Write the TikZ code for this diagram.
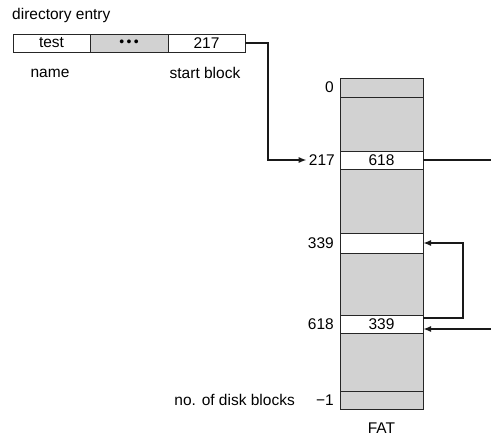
\documentclass[tikz,border=0pt]{standalone}
\usepackage{fontspec}
\setmainfont{Liberation Sans}
\usetikzlibrary{arrows.meta}
\begin{document}
\begin{tikzpicture}[x=1pt,y=-1pt,
  lbl/.style={inner sep=0pt, font=\fontsize{15.5}{17}\selectfont},
  cell/.style={draw=black!85, line width=0.9pt, inner sep=0pt, outer sep=0pt, minimum width=#1, font=\fontsize{15.5}{17}\selectfont},
  shade/.style={fill=gray!35},
  conn/.style={line width=1.7pt, black!90},
  tip/.style={-{Latex[length=8pt,width=6pt]}}
]
\useasboundingbox (0,0) rectangle (491,436);
% directory entry
\node[lbl, anchor=west] (dirlbl) at (12,15) {directory entry};
\node[cell=77pt, minimum height=18pt] (name) at (51.5,43) {test};
\node[cell=78pt, minimum height=18pt, shade] (dots) at (129,43) {\fontsize{14}{14}\selectfont •\,•\,•};
\node[cell=77pt, minimum height=18pt] (start) at (206.5,43) {217};
\node[lbl] (namelbl) at (50,73) {name};
\node[lbl] (startlbl) at (205,73) {start block};
% FAT column
\node[cell=83pt, minimum height=19pt, shade] (f0) at (381.5,87.5) {};
\node[cell=83pt, minimum height=54pt, shade] (g1) at (381.5,124) {};
\node[cell=83pt, minimum height=18pt] (r217) at (381.5,160) {618};
\node[cell=83pt, minimum height=64pt, shade] (g2) at (381.5,201) {};
\node[cell=83pt, minimum height=20pt] (r339) at (381.5,243) {};
\node[cell=83pt, minimum height=62pt, shade] (g3) at (381.5,284) {};
\node[cell=83pt, minimum height=18pt] (r618) at (381.5,324) {339};
\node[cell=83pt, minimum height=58pt, shade] (g4) at (381.5,362) {};
\node[cell=83pt, minimum height=18pt, shade] (rlast) at (381.5,400) {};
% labels
\node[lbl, anchor=east] (l0) at (334,87.5) {0};
\node[lbl, anchor=east] (l217) at (335,160) {217};
\node[lbl, anchor=east] (l339) at (334,243) {339};
\node[lbl, anchor=east] (l618) at (334,324) {618};
\node[lbl, anchor=east] (lm1) at (334,400) {−1};
\node[lbl, anchor=east] (ndb) at (295,400) {no. of disk blocks};
\node[lbl] (fat) at (381.5,428) {FAT};
% connectors
\coordinate (outr) at (491,160);
\coordinate (inr) at (491,329);
\draw[conn, tip] (start.east) -- ++(23,0) |- ([xshift=-2pt]l217.west);
\draw[conn] (r217.east) -- (outr);
\draw[conn, tip] ([yshift=6pt]r618.east) -- ++(40,0) |- (r339.east);
\draw[conn, tip] (inr) -- ([yshift=-5pt]r618.east);
\end{tikzpicture}
\end{document}
